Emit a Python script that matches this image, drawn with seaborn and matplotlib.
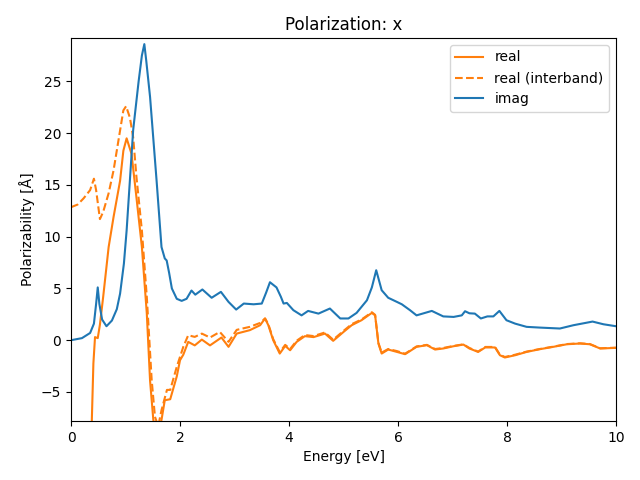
import matplotlib
matplotlib.use('Agg')
import matplotlib.pyplot as plt
import seaborn as sns

# imaginary part
imag_e = [0.0, 0.2, 0.35, 0.42, 0.46, 0.49, 0.52, 0.57, 0.65, 0.75, 0.84, 0.9, 0.97, 1.02, 1.14, 1.24, 1.30,
          1.345, 1.38, 1.45, 1.57, 1.66, 1.72, 1.755, 1.80, 1.85, 1.94, 2.03, 2.12, 2.21, 2.28, 2.41,
          2.58, 2.75, 2.89, 3.03, 3.17, 3.35, 3.5, 3.58, 3.65, 3.77, 3.85, 3.9, 3.96, 4.08, 4.23,
          4.35, 4.54, 4.75, 4.94, 5.09, 5.24, 5.43, 5.52, 5.6, 5.7, 5.82, 5.98, 6.07, 6.22, 6.34,
          6.62, 6.83, 7.02, 7.17, 7.23, 7.31, 7.41, 7.52, 7.64, 7.75, 7.86, 7.99, 8.15, 8.36, 8.6,
          8.97, 9.22, 9.37, 9.57, 9.77, 10.0]
imag_v = [0.0, 0.2, 0.7, 1.6, 3.5, 5.1, 3.5, 2.0, 1.35, 1.9, 3.0, 4.5, 7.4, 10.6, 20.3, 25.0, 27.5,
          28.6, 27.0, 23.5, 15.4, 9.0, 7.9, 7.7, 6.5, 5.0, 4.0, 3.8, 4.0, 4.8, 4.4, 4.9,
          4.1, 4.67, 3.7, 2.96, 3.54, 3.47, 3.54, 4.6, 5.6, 5.1, 4.2, 3.54, 3.6, 2.9, 2.4,
          2.83, 2.57, 3.06, 2.1, 2.1, 2.64, 3.86, 5.1, 6.76, 4.83, 4.1, 3.7, 3.47, 2.9, 2.4,
          2.83, 2.3, 2.25, 2.4, 2.8, 2.6, 2.57, 2.1, 2.3, 2.3, 2.83, 1.93, 1.6, 1.29, 1.22,
          1.13, 1.45, 1.6, 1.8, 1.54, 1.35]

# real part
real_e = [0.34, 0.38, 0.41, 0.44, 0.49, 0.53, 0.59, 0.69, 0.78, 0.9, 0.96, 1.02, 1.11, 1.2,
          1.3, 1.39, 1.45, 1.51, 1.57, 1.62, 1.66, 1.72, 1.82, 1.94, 2.0, 2.06, 2.15, 2.27, 2.4,
          2.55, 2.76, 2.89, 3.04, 3.28, 3.47, 3.56, 3.62, 3.71, 3.83, 3.93, 4.02, 4.14, 4.29,
          4.45, 4.66, 4.81, 5.0, 5.15, 5.33, 5.52, 5.58, 5.64, 5.7, 5.82, 5.98, 6.13, 6.34,
          6.53, 6.68, 6.83, 7.02, 7.2, 7.31, 7.47, 7.6, 7.78, 7.87, 7.96, 8.15, 8.36, 8.6,
          8.85, 9.1, 9.34, 9.52, 9.71, 10.0]
real_v = [-14.0, -8.0, -2.25, 0.3, 0.2, 1.5, 4.2, 9.0, 11.9, 15.4, 18.3, 19.5, 18.0, 13.8,
          9.0, 2.6, -3.9, -7.7, -9.0, -8.6, -7.7, -5.8, -5.7, -3.5, -1.93, -1.4, -0.16, -0.5, 0.06,
          -0.5, 0.26, -0.64, 0.64, 0.97, 1.45, 2.1, 1.45, 0.0, -1.29, -0.55, -0.97, -0.16, 0.39,
          0.3, 0.64, -0.06, 0.8, 1.45, 1.93, 2.64, 2.4, -0.32, -1.29, -0.9, -1.13, -1.35, -0.64,
          -0.48, -0.9, -0.8, -0.58, -0.42, -0.8, -1.13, -0.7, -0.7, -1.45, -1.67, -1.45, -1.13, -0.87,
          -0.64, -0.39, -0.32, -0.39, -0.8, -0.74]

# real part, interband only
inter_e = [0.0, 0.12, 0.23, 0.35, 0.42, 0.46, 0.53, 0.59, 0.69, 0.78, 0.87, 0.96, 1.01, 1.08,
           1.14, 1.2, 1.3, 1.39, 1.48, 1.54, 1.6, 1.66, 1.76, 1.82, 1.94, 2.06, 2.15, 2.27, 2.4,
           2.55, 2.73, 2.89, 3.04, 3.28, 3.47, 3.56, 3.62, 3.71, 3.83, 3.93, 4.02, 4.14, 4.29,
           4.45, 4.66, 4.81, 5.0, 5.15, 5.33, 5.52, 5.58, 5.64, 5.7, 5.82, 5.98, 6.13, 6.34,
           6.53, 6.68, 6.83, 7.02, 7.2, 7.31, 7.47, 7.6, 7.78, 7.87, 7.96, 8.15, 8.36, 8.6,
           8.85, 9.1, 9.34, 9.52, 9.71, 10.0]
inter_v = [12.85, 13.1, 13.7, 14.5, 15.6, 14.5, 11.7, 12.4, 14.2, 16.4, 19.3, 22.2, 22.6, 21.5,
           19.6, 15.8, 10.6, 4.2, -3.86, -7.4, -8.3, -6.76, -4.8, -4.8, -2.57, -0.64, 0.48, 0.32, 0.64,
           0.26, 0.8, -0.16, 1.0, 1.29, 1.67, 2.1, 1.55, 0.1, -1.15, -0.45, -0.85, -0.05, 0.5,
           0.4, 0.75, 0.05, 0.9, 1.55, 2.0, 2.7, 2.45, -0.25, -1.2, -0.85, -1.05, -1.3, -0.6,
           -0.45, -0.85, -0.75, -0.55, -0.4, -0.75, -1.1, -0.65, -0.65, -1.4, -1.62, -1.4, -1.1, -0.85,
           -0.62, -0.37, -0.3, -0.37, -0.78, -0.72]

fig, ax = plt.subplots(figsize=(6.4, 4.8), dpi=100)
sns.lineplot(x=real_e, y=real_v, ax=ax, color='tab:orange', label='real', sort=False)
sns.lineplot(x=inter_e, y=inter_v, ax=ax, color='tab:orange', linestyle='--',
             label='real (interband)', sort=False)
sns.lineplot(x=imag_e, y=imag_v, ax=ax, color='tab:blue', label='imag', sort=False)

ax.set_xlim(0, 10)
ax.set_ylim(-7.8, 29.2)
ax.set_title("Polarization: x")
ax.set_xlabel("Energy [eV]")
ax.set_ylabel("Polarizability [Å]")
ax.legend(loc='upper right')
fig.subplots_adjust(left=0.111, right=0.9625, top=0.921, bottom=0.123)
plt.savefig('out.png')
